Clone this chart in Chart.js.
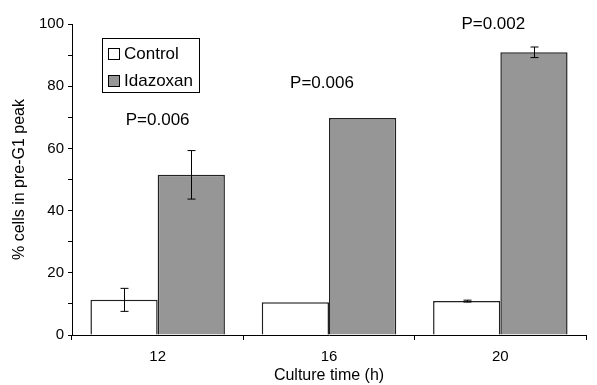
<!DOCTYPE html>
<html>
<head>
<meta charset="utf-8">
<script src="https://cdn.jsdelivr.net/npm/chart.js@4"></script>
<style>
  html, body { margin: 0; padding: 0; background: #fff; }
  #wrap { width: 597px; height: 385px; }
</style>
</head>
<body>
<div id="wrap"><canvas id="chart"></canvas></div>
<script>
// values
const cultureTimes = ['12', '16', '20'];
const controlValues = [11.3, 10.5, 10.9];
const controlErrors = [3.7, 0, 0.3];
const idazoxanValues = [51.5, 69.8, 90.9];
const idazoxanErrors = [7.8, 0, 1.7];
const pLabels = ['P=0.006', 'P=0.006', 'P=0.002'];
const pLabelLevels = [69, 81, 99.8]; // height of each P label, in % units

const FONT = '"Liberation Sans", Arial, sans-serif';

// error bars drawn through the scales
const errorBarPlugin = {
    id: 'errorBars',
    afterDatasetsDraw(chart) {
        const ctx = chart.ctx;
        const y = chart.scales.y;
        const errs = [controlErrors, idazoxanErrors];
        ctx.save();
        ctx.strokeStyle = '#000';
        ctx.lineWidth = 1;
        chart.data.datasets.forEach((ds, di) => {
            const meta = chart.getDatasetMeta(di);
            meta.data.forEach((bar, i) => {
                const e = errs[di][i];
                if (!e) return;
                const v = ds.data[i];
                const yTop = y.getPixelForValue(v + e);
                const yBot = y.getPixelForValue(v - e);
                const x = Math.round(bar.x) + 0.5;
                ctx.beginPath();
                ctx.moveTo(x, yTop);
                ctx.lineTo(x, yBot);
                ctx.moveTo(x - 4, yTop);
                ctx.lineTo(x + 4, yTop);
                ctx.moveTo(x - 4, yBot);
                ctx.lineTo(x + 4, yBot);
                ctx.stroke();
            });
        });
        ctx.restore();
    }
};

// P values and the boxed legend
const annotationPlugin = {
    id: 'annotations',
    afterDraw(chart) {
        const ctx = chart.ctx;
        const x = chart.scales.x;
        const y = chart.scales.y;
        ctx.save();
        ctx.fillStyle = '#000';
        ctx.font = '17px ' + FONT;
        ctx.textAlign = 'center';
        ctx.textBaseline = 'middle';
        pLabels.forEach((txt, i) => {
            const offs = i === 0 ? 0 : -7;
            ctx.fillText(txt, x.getPixelForValue(i) + offs, y.getPixelForValue(pLabelLevels[i]));
        });

        // legend box
        ctx.strokeStyle = '#000';
        ctx.lineWidth = 1;
        ctx.fillStyle = '#fff';
        ctx.fillRect(102, 38, 97, 54);
        ctx.strokeRect(102.5, 38.5, 97, 54);
        ctx.textAlign = 'left';
        chart.data.datasets.forEach((ds, i) => {
            const cy = 54 + i * 27;
            ctx.fillStyle = ds.backgroundColor;
            ctx.fillRect(108.5, cy - 5.5, 11, 11);
            ctx.strokeStyle = '#000';
            ctx.strokeRect(108.5, cy - 5.5, 11, 11);
            ctx.fillStyle = '#000';
            ctx.fillText(ds.label, 124, cy);
        });
        ctx.restore();
    }
};

new Chart(document.getElementById('chart'), {
    type: 'bar',
    data: {
        labels: cultureTimes,
        datasets: [
            {
                label: 'Control',
                data: controlValues,
                backgroundColor: '#ffffff',
                borderColor: '#222222',
                borderWidth: 1.5
            },
            {
                label: 'Idazoxan',
                data: idazoxanValues,
                backgroundColor: '#969696',
                borderColor: '#222222',
                borderWidth: 1.5
            }
        ]
    },
    options: {
        responsive: true,
        maintainAspectRatio: false,
        animation: false,
        layout: { padding: { top: 24, right: 11, left: 0, bottom: 0 } },
        datasets: {
            bar: { categoryPercentage: 0.785, barPercentage: 1.0 }
        },
        plugins: {
            legend: { display: false },
            tooltip: { enabled: false }
        },
        scales: {
            x: {
                grid: {
                    offset: true,
                    drawOnChartArea: false,
                    drawTicks: true,
                    tickLength: 5,
                    color: '#000'
                },
                border: { color: '#000', width: 1 },
                ticks: { color: '#000', font: { family: FONT, size: 15 }, padding: 8 },
                title: {
                    display: true,
                    text: 'Culture time (h)',
                    color: '#000',
                    font: { family: FONT, size: 16 },
                    padding: { top: 0, bottom: 0 }
                },
                afterFit: s => { s.height = 50; }
            },
            y: {
                min: 0,
                max: 100,
                grid: {
                    drawOnChartArea: false,
                    drawTicks: true,
                    tickLength: 4,
                    color: '#000'
                },
                border: { color: '#000', width: 1 },
                ticks: {
                    stepSize: 10,
                    color: '#000',
                    font: { family: FONT, size: 15 },
                    padding: 4,
                    autoSkip: false,
                    callback: v => (v % 20 === 0 ? v : '')
                },
                title: {
                    display: true,
                    text: '% cells in pre-G1 peak',
                    color: '#000',
                    font: { family: FONT, size: 16 },
                    padding: { top: 10, bottom: 0 }
                },
                afterFit: s => { s.width = 72; }
            }
        }
    },
    plugins: [errorBarPlugin, annotationPlugin]
});
</script>
</body>
</html>
